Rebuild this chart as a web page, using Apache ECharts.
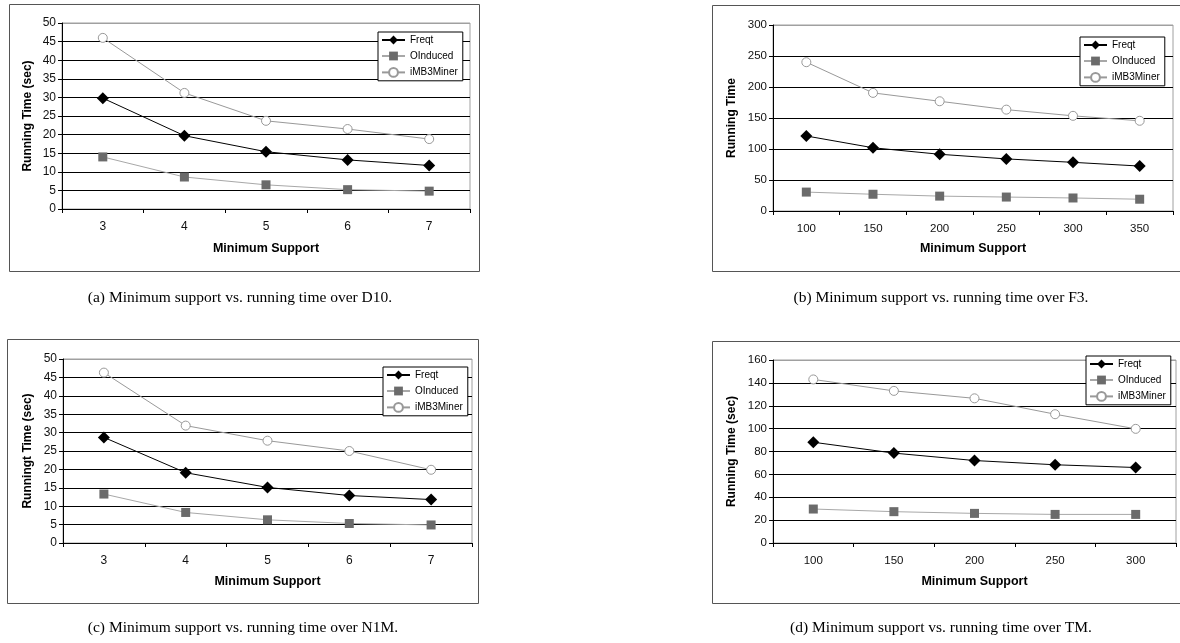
<!DOCTYPE html>
<html>
<head>
<meta charset="utf-8">
<script src="https://cdn.jsdelivr.net/npm/echarts@6/dist/echarts.min.js"></script>
<style>
html,body{margin:0;padding:0;background:#fff;}
#c{width:1180px;height:643px;}
</style>
</head>
<body>
<div id="c"></div>
<script>
// ---- Data ----
const seriesNames = ['Freqt', 'OInduced', 'iMB3Miner'];

// (a) D10
const catsA = ['3', '4', '5', '6', '7'];
const freqtA = [29.8, 19.7, 15.4, 13.2, 11.7];
const oinducedA = [14.0, 8.6, 6.5, 5.2, 4.8];
const imb3A = [46.0, 31.2, 23.7, 21.5, 18.8];

// (b) F3
const catsB = ['100', '150', '200', '250', '300', '350'];
const freqtB = [121, 102, 91.5, 84, 78.5, 72.5];
const oinducedB = [30.5, 27, 24, 22.5, 21, 19];
const imb3B = [240, 190.5, 177, 163.5, 153.5, 145.5];

// (c) N1M
const catsC = ['3', '4', '5', '6', '7'];
const freqtC = [28.7, 19.1, 15.1, 12.9, 11.8];
const oinducedC = [13.3, 8.3, 6.3, 5.3, 4.9];
const imb3C = [46.3, 31.9, 27.8, 25.0, 19.9];

// (d) TM
const catsD = ['100', '150', '200', '250', '300'];
const freqtD = [88.1, 78.6, 72.1, 68.4, 66.0];
const oinducedD = [29.7, 27.4, 25.9, 25.0, 25.0];
const imb3D = [143, 133, 126.5, 112.6, 99.8];

const yTitles = ['Running Time (sec)', 'Running Time', 'Runningt Time (sec)', 'Running Time (sec)'];
const xTitle = 'Minimum Support';
const captions = [
  '(a) Minimum support vs. running time over D10.',
  '(b) Minimum support vs. running time over F3.',
  '(c) Minimum support vs. running time over N1M.',
  '(d) Minimum support vs. running time over TM.'
];

// ---- Layout ----
const panels = [
  {cats: catsA, data: [freqtA, oinducedA, imb3A], max: 50, interval: 5,
   grid: {left: 62, top: 23, width: 408, height: 186}, yGap: 28, xGap: 33, fs: 12,
   legend: {left: 378, top: 32}, box: [9, 4, 470, 267], cap: [240, 298]},
  {cats: catsB, data: [freqtB, oinducedB, imb3B], max: 300, interval: 50,
   grid: {left: 773, top: 25, width: 400, height: 186}, yGap: 35, xGap: 31, fs: 11.5,
   legend: {left: 1080, top: 37}, box: [712, 5, 480, 266], cap: [941, 298]},
  {cats: catsC, data: [freqtC, oinducedC, imb3C], max: 50, interval: 5,
   grid: {left: 63, top: 359, width: 409, height: 184}, yGap: 29, xGap: 32, fs: 12,
   legend: {left: 383, top: 367}, box: [7, 339, 471, 264], cap: [243, 628]},
  {cats: catsD, data: [freqtD, oinducedD, imb3D], max: 160, interval: 20,
   grid: {left: 773, top: 360, width: 403, height: 183}, yGap: 35, xGap: 32, fs: 11.5,
   legend: {left: 1086, top: 356}, box: [712, 341, 480, 262], cap: [941, 628]}
];

const FONT = '"Liberation Sans", Arial, sans-serif';

const styles = [
  {symbol: 'diamond', symbolSize: 12, line: '#000', item: {color: '#000', borderColor: '#000', borderWidth: 0}},
  {symbol: 'rect', symbolSize: 9, line: '#a8a8a8', item: {color: '#6b6b6b', borderColor: '#6b6b6b', borderWidth: 0}},
  {symbol: 'circle', symbolSize: 9, line: '#999', item: {color: '#fff', borderColor: '#999', borderWidth: 1}}
];

const grids = [], xAxes = [], yAxes = [], series = [], legends = [], graphics = [];

panels.forEach((p, i) => {
  grids.push(Object.assign({show: true, borderColor: '#a0a0a0', borderWidth: 1, containLabel: false}, p.grid));
  xAxes.push({
    type: 'category', gridIndex: i, data: p.cats, boundaryGap: true,
    name: xTitle, nameLocation: 'middle', nameGap: p.xGap,
    nameTextStyle: {fontFamily: FONT, fontWeight: 'bold', fontSize: 12.5, color: '#000'},
    axisLine: {lineStyle: {color: '#000', width: 1}},
    axisTick: {show: true, length: 4, lineStyle: {color: '#000'}},
    axisLabel: {fontFamily: FONT, fontSize: p.fs, color: '#111', margin: 12},
    splitLine: {show: false}
  });
  const nLines = Math.round(p.max / p.interval) + 1;
  const cols = [];
  for (let k = 0; k < nLines; k++) cols.push(k === nLines - 1 ? '#a0a0a0' : '#000');
  yAxes.push({
    type: 'value', gridIndex: i, min: 0, max: p.max, interval: p.interval,
    name: yTitles[i], nameLocation: 'middle', nameGap: p.yGap, nameRotate: 90,
    nameTextStyle: {fontFamily: FONT, fontWeight: 'bold', fontSize: 12, color: '#000'},
    axisLine: {show: true, lineStyle: {color: '#000', width: 1}},
    axisTick: {show: true, length: 4, lineStyle: {color: '#000'}},
    axisLabel: {fontFamily: FONT, fontSize: p.fs, color: '#111', margin: 6},
    splitLine: {show: true, lineStyle: {color: cols, width: 1}}
  });
  seriesNames.forEach((nm, s) => {
    const st = styles[s];
    series.push({
      name: nm, type: 'line', xAxisIndex: i, yAxisIndex: i,
      data: p.data[s], symbol: st.symbol, symbolSize: st.symbolSize,
      showAllSymbol: true, animation: false,
      lineStyle: {color: st.line, width: 1},
      itemStyle: st.item,
      z: 3 + s
    });
  });
  legends.push({
    left: p.legend.left, top: p.legend.top, orient: 'vertical',
    data: seriesNames, itemGap: 6, itemWidth: 23, itemHeight: 11,
    padding: [3, 5, 3, 3], borderColor: '#000', borderWidth: 1, backgroundColor: '#fff',
    textStyle: {fontFamily: FONT, fontSize: 10, color: '#000'},
    selectedMode: false
  });
  graphics.push({
    type: 'rect', left: p.box[0], top: p.box[1], z: -10, silent: true,
    shape: {width: p.box[2], height: p.box[3]},
    style: {fill: '#fff', stroke: '#555', lineWidth: 1}
  });
  graphics.push({
    type: 'text', x: p.cap[0], y: p.cap[1], silent: true,
    style: {text: captions[i], font: '15.5px "Liberation Serif", "Times New Roman", serif',
      fill: '#000', textAlign: 'center', textVerticalAlign: 'middle'}
  });
});

const chart = echarts.init(document.getElementById('c'), null, {renderer: 'canvas'});
chart.setOption({
  animation: false,
  backgroundColor: '#fff',
  grid: grids, xAxis: xAxes, yAxis: yAxes, series: series,
  legend: legends, graphic: graphics,
  tooltip: {show: false}
});
</script>
</body>
</html>
